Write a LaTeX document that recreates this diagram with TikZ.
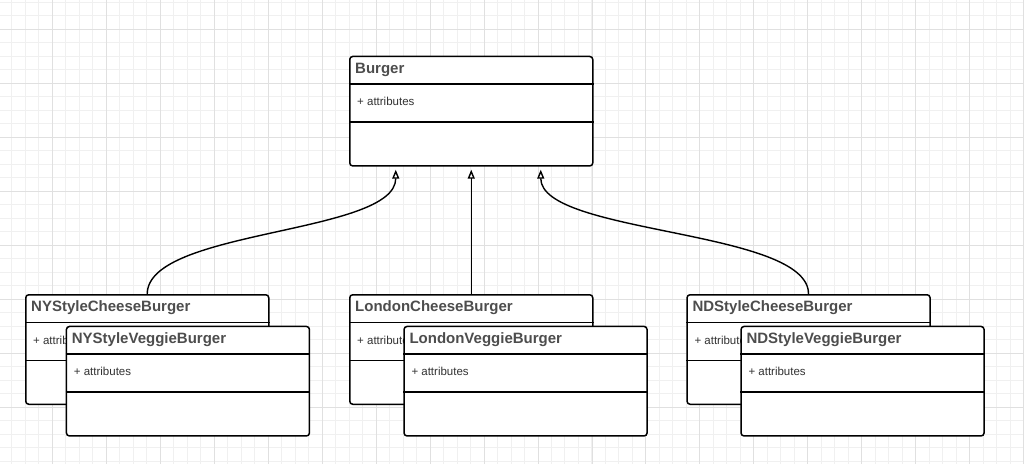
\documentclass[tikz,border=0pt]{standalone}
\usepackage{fontspec}
\setmainfont{Liberation Sans}
\usetikzlibrary{arrows.meta, calc}
\usepackage{xcolor}
\definecolor{gridminor}{RGB}{240, 240, 240}
\definecolor{gridmajor}{RGB}{224, 224, 224}
\definecolor{titlegray}{RGB}{77, 77, 77}
\definecolor{attrgray}{RGB}{50, 50, 50}

\begin{document}
\begin{tikzpicture}[x=1pt, y=-1pt,
  classbox/.style={draw=black, line width=1.5pt, fill=white, rounded corners=3pt,
    minimum width=243pt, minimum height=109.5pt, inner sep=0pt, anchor=north west},
  classdiv/.style={line width=1.5pt},
  classtitle/.style={anchor=base west, inner sep=0pt, text=titlegray,
    font=\fontsize{15}{18}\selectfont\bfseries},
  classattr/.style={anchor=base west, inner sep=0pt, text=attrgray,
    font=\fontsize{11.5}{13}\selectfont},
  inherits/.style={line width=1.4pt, -{Triangle[open, length=9pt, width=7pt]}}]

  \useasboundingbox (0,0) rectangle (1024,464);

  % --- Grid ---
  \foreach \k in {0,...,75}
    \draw[gridminor, line width=0.8pt] (11.8+\k*13.49, 0) -- (11.8+\k*13.49, 464);
  \foreach \k in {0,...,34}
    \draw[gridminor, line width=0.8pt] (0, 2.3+\k*13.49) -- (1024, 2.3+\k*13.49);
  \foreach \k in {0,...,18}
    \draw[gridmajor, line width=0.8pt] (52.3+\k*53.96, 0) -- (52.3+\k*53.96, 464);
  \foreach \k in {0,...,7}
    \draw[gridmajor, line width=0.8pt] (0, 29.3+\k*53.96) -- (1024, 29.3+\k*53.96);

  % --- Classes ---
  \foreach \name/\px/\py/\title in {
      burger/349/55.7/Burger,
      nyCheese/25/294/NYStyleCheeseBurger,
      nyVeggie/65.7/325.7/NYStyleVeggieBurger,
      londonCheese/349/294/LondonCheeseBurger,
      londonVeggie/403.3/325.7/LondonVeggieBurger,
      ndCheese/686.3/294/NDStyleCheeseBurger,
      ndVeggie/740.3/325.7/NDStyleVeggieBurger} {
    \node[classbox] (\name) at (\px, \py) {};
    \draw[classdiv] ([yshift=-28.5pt]\name.north west) -- ([yshift=-28.5pt]\name.north east);
    \draw[classdiv] ([yshift=-66.3pt]\name.north west) -- ([yshift=-66.3pt]\name.north east);
    \node[classtitle] (\name-title) at ([xshift=6pt, yshift=-17.5pt]\name.north west) {\title};
    \node[classattr] (\name-attr) at ([xshift=8pt, yshift=-50pt]\name.north west) {+ attributes};
  }

  % --- Inheritance ---
  \coordinate (tipL) at ([xshift=-75.5pt, yshift=-3pt]burger.south);
  \coordinate (tipM) at ([yshift=-3pt]burger.south);
  \coordinate (tipR) at ([xshift=69.5pt, yshift=-3pt]burger.south);

  \draw[inherits] (nyCheese.north) .. controls +(0,-65) and +(0,65) .. (tipL);
  \draw[inherits] (londonCheese.north) -- (tipM);
  \draw[inherits] (ndCheese.north) .. controls +(0,-65) and +(0,65) .. (tipR);

\end{tikzpicture}
\end{document}
